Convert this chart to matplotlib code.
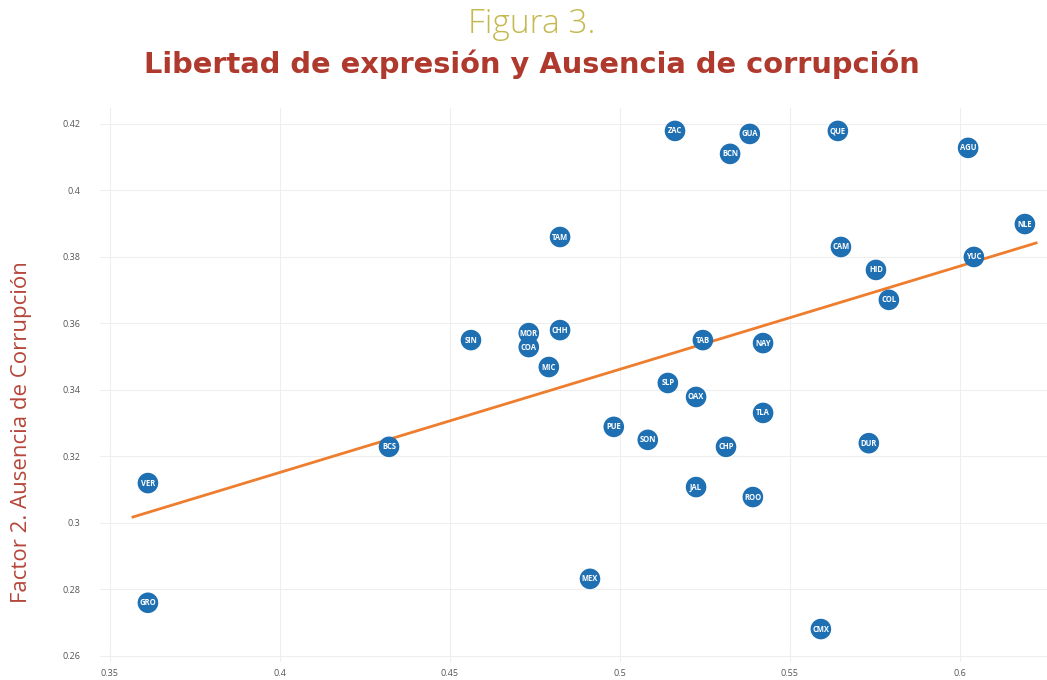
import matplotlib.pyplot as plt
import numpy as np

states = ["VER", "GRO", "BCS", "SIN", "MOR", "COA", "MIC", "CHH", "TAM", "MEX",
          "PUE", "SON", "SLP", "ZAC", "OAX", "JAL", "TAB", "CHP", "BCN", "GUA",
          "ROO", "NAY", "TLA", "CMX", "QUE", "CAM", "DUR", "HID", "COL", "AGU",
          "YUC", "NLE"]
libertad = [0.3612, 0.3612, 0.4321, 0.4562, 0.4732, 0.4732, 0.4791, 0.4824, 0.4824, 0.4912,
            0.4982, 0.5082, 0.5141, 0.5162, 0.5224, 0.5224, 0.5244, 0.5312, 0.5324, 0.5382,
            0.5391, 0.5421, 0.5421, 0.5591, 0.5641, 0.5650, 0.5732, 0.5753, 0.5791, 0.6024,
            0.6041, 0.6191]
corrupcion = [0.3120, 0.2760, 0.3229, 0.3550, 0.3571, 0.3529, 0.3469, 0.3580, 0.3860, 0.2832,
              0.3289, 0.3250, 0.3421, 0.4179, 0.3379, 0.3108, 0.3550, 0.3229, 0.4110, 0.4170,
              0.3078, 0.3541, 0.3331, 0.2681, 0.4179, 0.3830, 0.3240, 0.3761, 0.3671, 0.4128,
              0.3800, 0.3899]

# trend line ends as drawn in the figure
trend_x = [0.3568, 0.6224]
trend_y = [0.3018, 0.3842]

xticks = [0.35, 0.4, 0.45, 0.5, 0.55, 0.6]
xticklabels = ["0.35", "0.4", "0.45", "0.5", "0.55", "0.6"]
yticks = [0.26, 0.28, 0.3, 0.32, 0.34, 0.36, 0.38, 0.4, 0.42]
yticklabels = ["0.26", "0.28", "0.3", "0.32", "0.34", "0.36", "0.38", "0.4", "0.42"]

plt.rcParams["font.family"] = ["Open Sans", "DejaVu Sans"]

fig = plt.figure(figsize=(10.47, 6.8), dpi=100)
ax = fig.add_axes([0.0955, 0.0265, 0.9045, 0.8147])

ax.plot(trend_x, trend_y, color="#ee7d2e", linewidth=2.0, zorder=2)
ax.scatter(libertad, corrupcion, s=220, color="#1f6fb3", edgecolors="none", zorder=3)
for name, x, y in zip(states, libertad, corrupcion):
    ax.text(x, y, name, color="white", fontsize=5.5, fontweight="bold",
            ha="center", va="center", zorder=4)

ax.set_xlim(0.3471, 0.6256)
ax.set_ylim(0.2582, 0.4248)
ax.set_xticks(xticks)
ax.set_xticklabels(xticklabels)
ax.set_yticks(yticks)
ax.set_yticklabels(yticklabels)
ax.tick_params(length=0, labelsize=6.5, labelcolor="#555555")
ax.tick_params(axis="x", pad=5)
ax.tick_params(axis="y", pad=14)
ax.grid(True, color="#eeeeee", linewidth=0.8)
ax.set_axisbelow(True)
for sp in ax.spines.values():
    sp.set_visible(False)

fig.text(0.508, 0.951, "Figura 3.", ha="center", va="baseline", fontsize=24,
         fontweight="light", color="#c4b84e")
fig.text(0.508, 0.893, "Libertad de expresión y Ausencia de corrupción", ha="center",
         va="baseline", fontsize=20.8, fontweight="bold", color="#b0392d",
         family=["DejaVu Sans"])
fig.text(0.021, 0.365, "Factor 2. Ausencia de Corrupción", rotation=90, ha="center",
         va="center", fontsize=16, color="#b5463a")

fig.savefig("out.png", dpi=100)
